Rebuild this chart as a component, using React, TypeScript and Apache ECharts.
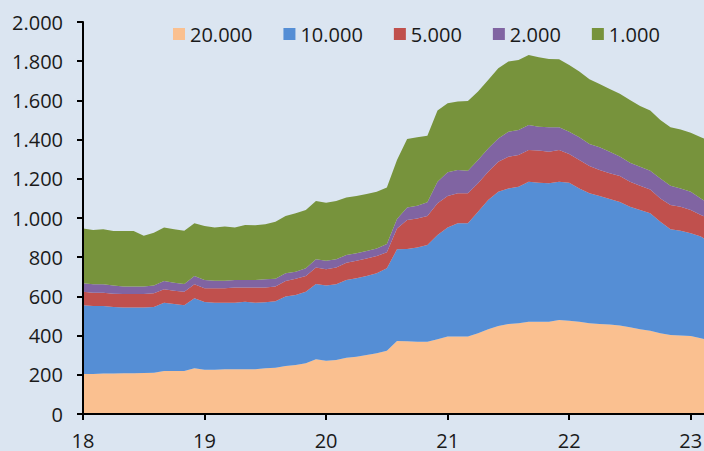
import React, { useEffect, useRef } from "react";
import * as echarts from "echarts";

// Monthly observations starting January 2018
const startYear = 18;
const seriesNames = ["20.000", "10.000", "5.000", "2.000", "1.000"];

const s20000 = [
  204, 204, 206, 206, 208, 208, 209, 211, 219, 219, 219, 233,
  226, 226, 228, 228, 228, 228, 233, 236, 245, 250, 259, 279,
  272, 276, 287, 292, 301, 310, 323, 372, 371, 369, 369, 381,
  395, 395, 395, 412, 432, 449, 459, 463, 471, 471, 471, 480,
  476, 471, 463, 459, 456, 452, 442, 432, 425, 412, 403, 401,
  398, 386, 375,
];
const s10000 = [
  351, 347, 345, 340, 336, 336, 335, 335, 349, 342, 336, 357,
  345, 342, 340, 340, 345, 340, 337, 339, 354, 357, 365, 384,
  383, 386, 397, 400, 403, 408, 420, 468, 471, 481, 493, 532,
  557, 578, 578, 620, 660, 685, 692, 697, 714, 709, 706, 705,
  704, 680, 663, 653, 641, 630, 616, 609, 599, 569, 539, 534,
  524, 519, 500,
];
const s5000 = [
  69, 68, 68, 68, 68, 68, 68, 70, 68, 68, 69, 72,
  70, 73, 73, 77, 72, 77, 76, 75, 80, 83, 80, 84,
  83, 85, 88, 90, 90, 88, 82, 107, 148, 148, 148, 162,
  160, 153, 153, 145, 144, 153, 162, 161, 162, 164, 161, 162,
  147, 145, 139, 133, 131, 132, 127, 124, 122, 119, 124, 123,
  119, 110, 120,
];
const s2000 = [
  43, 43, 43, 41, 39, 39, 39, 39, 43, 41, 39, 42,
  43, 39, 39, 39, 39, 39, 41, 40, 39, 36, 39, 42,
  44, 42, 39, 38, 38, 39, 42, 48, 63, 65, 70, 110,
  121, 119, 115, 119, 119, 119, 127, 128, 127, 122, 125, 116,
  113, 116, 113, 116, 110, 100, 97, 97, 95, 102, 99, 93,
  93, 85, 70,
];
const s1000 = [
  280, 277, 280, 279, 283, 283, 259, 270, 272, 272, 272, 269,
  275, 272, 276, 268, 280, 279, 281, 291, 292, 298, 298, 298,
  296, 298, 294, 292, 290, 289, 288, 301, 350, 349, 340, 363,
  352, 349, 356, 349, 349, 358, 358, 357, 358, 354, 348, 347,
  341, 335, 330, 323, 320, 320, 320, 309, 307, 298, 298, 301,
  301, 312, 325,
];

const months: string[] = s20000.map(
  (_, i) => `${startYear + Math.floor(i / 12)}-${(i % 12) + 1}`
);

const colors = ["#FAC090", "#558ED5", "#C0504D", "#8064A2", "#77933C"];
const allSeries = [s20000, s10000, s5000, s2000, s1000];

function fmt(v: number): string {
  if (v >= 1000) {
    const th = Math.floor(v / 1000);
    const rest = String(v % 1000).padStart(3, "0");
    return th + "." + rest;
  }
  return String(v);
}

export default function App() {
  const ref = useRef<HTMLDivElement>(null);
  useEffect(() => {
    if (!ref.current) return;
    const chart = echarts.init(ref.current, undefined, { renderer: "svg" });
    const font = "'Open Sans', 'Noto Sans', sans-serif";
    const isJan = (index: number) => index % 12 === 0;
    chart.setOption({
      animation: false,
      backgroundColor: "#DBE5F1",
      color: colors,
      legend: {
        top: 19,
        left: 168,
        itemWidth: 12,
        itemHeight: 12,
        itemGap: 31,
        icon: "rect",
        textStyle: { fontFamily: font, fontSize: 20, color: "#1a1a1a" },
        data: seriesNames,
      },
      grid: { left: 83, right: 0, top: 22, bottom: 37, containLabel: false },
      xAxis: {
        type: "category",
        data: months,
        boundaryGap: false,
        z: 10,
        splitLine: { show: false },
        axisLine: { show: true, lineStyle: { color: "#000", width: 2 } },
        axisTick: {
          show: true,
          length: 6,
          inside: false,
          interval: (index: number) => isJan(index),
          lineStyle: { color: "#000", width: 2 },
        },
        axisLabel: {
          fontFamily: font,
          fontSize: 20,
          color: "#1a1a1a",
          margin: 16,
          interval: (index: number) => isJan(index),
          formatter: (v: string) => v.split("-")[0],
        },
      },
      yAxis: {
        type: "value",
        min: 0,
        max: 2000,
        interval: 200,
        z: 10,
        splitLine: { show: false },
        axisLine: { show: true, lineStyle: { color: "#000", width: 2 } },
        axisTick: { show: true, length: 6, lineStyle: { color: "#000", width: 2 } },
        axisLabel: {
          fontFamily: font,
          fontSize: 20,
          color: "#1a1a1a",
          margin: 20,
          formatter: (v: number) => fmt(v),
        },
      },
      series: allSeries.map((arr, k) => ({
        name: seriesNames[k],
        type: "line",
        stack: "total",
        showSymbol: false,
        symbol: "none",
        clip: true,
        lineStyle: { width: 0 },
        areaStyle: { color: colors[k], opacity: 1 },
        itemStyle: { color: colors[k] },
        data: arr,
      })),
    });
    return () => chart.dispose();
  }, []);
  return (
    <div style={{ position: "fixed", left: 0, top: 0, width: 704, height: 451, overflow: "hidden" }}>
      <div ref={ref} style={{ width: 711, height: 451 }} />
    </div>
  );
}
